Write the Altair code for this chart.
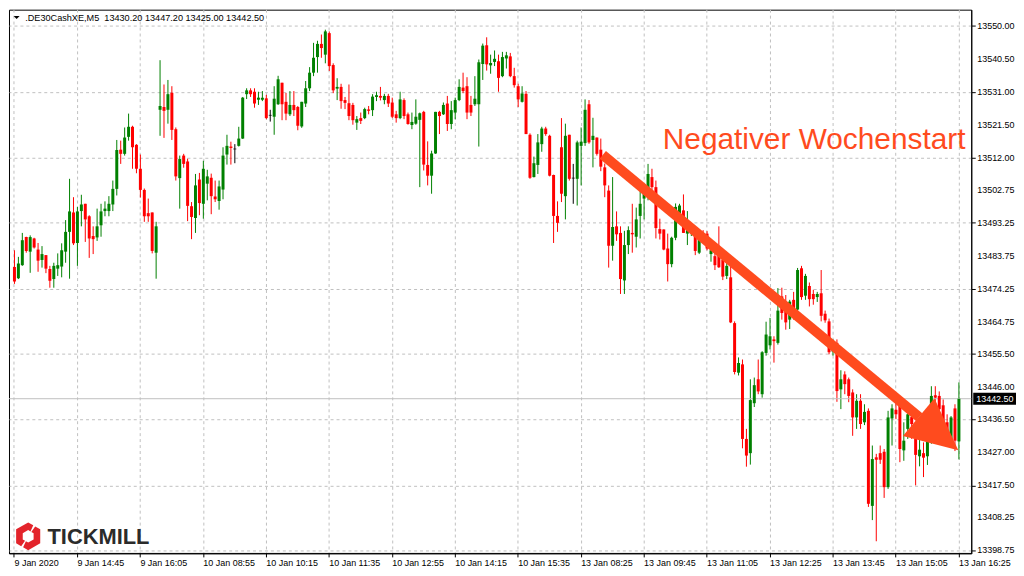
import altair as alt
import pandas as pd

# ---- OHLC values (DE30 Cash, M5), one entry per candle ----
opens = [
    13480.5, 13477.2, 13481.0, 13489.1, 13484.9, 13488.7, 13485.5, 13482.5, 13483.9, 13479.9,
    13477.0, 13480.0, 13480.6, 13484.9, 13490.6, 13496.2, 13487.4, 13496.6, 13498.7, 13495.1,
    13489.4, 13489.0, 13492.5, 13496.6, 13496.6, 13498.5, 13503.0, 13514.3, 13513.1, 13518.0,
    13520.9, 13515.7, 13508.8, 13502.7, 13496.0, 13496.2, 13484.6, 13525.8, 13526.6, 13525.8,
    13530.7, 13520.2, 13506.1, 13512.6, 13510.9, 13498.0, 13494.6, 13505.7, 13498.7, 13504.5,
    13506.2, 13500.8, 13499.5, 13502.8, 13512.9, 13515.2, 13514.5, 13515.4, 13517.5, 13530.3,
    13531.4, 13531.0, 13528.7, 13528.7, 13529.1, 13524.2, 13523.8, 13527.4, 13533.6, 13528.1,
    13524.5, 13527.2, 13526.6, 13521.0, 13527.6, 13532.0, 13536.5, 13541.0, 13544.8, 13541.7,
    13547.9, 13538.7, 13531.9, 13532.4, 13528.6, 13527.7, 13527.2, 13522.1, 13523.4, 13523.4,
    13525.9, 13525.7, 13529.5, 13529.8, 13528.6, 13529.8, 13527.9, 13524.5, 13523.4, 13528.6,
    13524.5, 13521.4, 13521.8, 13522.9, 13525.2, 13509.9, 13506.8, 13513.2, 13525.2, 13524.5,
    13527.6, 13521.7, 13525.0, 13528.6, 13532.2, 13532.6, 13527.2, 13527.4, 13527.4, 13539.0,
    13544.4, 13538.6, 13539.6, 13539.8, 13535.5, 13540.6, 13541.2, 13535.5, 13532.6, 13528.1,
    13530.4, 13518.6, 13506.4, 13509.9, 13515.9, 13520.4, 13518.3, 13507.0, 13495.2, 13515.0,
    13500.9, 13518.6, 13506.1, 13505.9, 13515.4, 13516.2, 13527.4, 13517.1, 13517.8, 13514.3,
    13509.2, 13502.5, 13486.6, 13492.2, 13490.3, 13476.6, 13486.8, 13490.3, 13489.2, 13495.2,
    13500.2, 13502.5, 13506.4, 13503.5, 13491.4, 13491.3, 13485.8, 13481.3, 13488.9, 13495.9,
    13496.8, 13490.1, 13490.2, 13490.1, 13484.6, 13490.1, 13490.1, 13484.2, 13483.6, 13484.4,
    13482.5, 13477.9, 13477.5, 13464.3, 13450.0, 13452.4, 13430.9, 13426.8, 13441.2, 13448.1,
    13443.8, 13455.7, 13457.9, 13459.6, 13458.6, 13472.0, 13469.6, 13465.3, 13471.0, 13468.2,
    13480.1, 13472.2, 13475.0, 13472.7, 13471.8, 13472.9, 13467.0, 13464.8, 13456.1, 13458.6,
    13445.2, 13449.5, 13448.1, 13444.3, 13437.1, 13441.9, 13435.7, 13439.0, 13411.6, 13425.6,
    13426.8, 13427.2, 13417.0, 13436.8, 13439.3, 13440.6, 13427.6, 13433.8, 13437.2, 13430.9,
    13425.9, 13426.8, 13425.9, 13430.9, 13443.5, 13443.3, 13440.6, 13435.7, 13430.4, 13439.7,
    13430.2,
]
highs = [
    13485.3, 13483.4, 13490.3, 13489.2, 13489.6, 13488.9, 13487.4, 13486.5, 13483.9, 13480.8,
    13481.7, 13484.4, 13487.3, 13494.0, 13505.9, 13500.6, 13497.8, 13501.3, 13498.7, 13495.4,
    13492.2, 13497.3, 13498.7, 13499.4, 13500.9, 13505.4, 13517.1, 13516.9, 13520.7, 13524.7,
    13521.2, 13515.9, 13512.9, 13503.1, 13500.2, 13496.2, 13493.5, 13540.1, 13533.1, 13534.4,
    13532.6, 13520.7, 13512.6, 13513.1, 13511.7, 13499.2, 13507.3, 13507.6, 13511.1, 13508.5,
    13507.4, 13505.4, 13505.4, 13515.0, 13518.6, 13516.6, 13515.9, 13520.9, 13529.5, 13532.0,
    13532.0, 13532.0, 13531.0, 13531.2, 13530.1, 13525.8, 13532.6, 13535.6, 13533.6, 13530.7,
    13531.2, 13531.2, 13526.9, 13528.1, 13534.1, 13538.1, 13545.1, 13545.7, 13547.5, 13548.9,
    13548.4, 13539.2, 13534.9, 13533.3, 13529.5, 13533.1, 13527.8, 13524.0, 13525.0, 13526.4,
    13526.9, 13530.3, 13531.0, 13532.4, 13530.4, 13530.4, 13529.3, 13525.5, 13531.0, 13529.1,
    13525.0, 13525.0, 13528.8, 13525.0, 13525.5, 13516.7, 13514.0, 13525.2, 13525.5, 13527.9,
    13529.8, 13528.3, 13529.3, 13534.6, 13536.5, 13535.2, 13529.8, 13535.5, 13540.3, 13544.9,
    13546.7, 13541.7, 13542.9, 13541.7, 13542.5, 13542.5, 13542.2, 13537.9, 13533.3, 13532.6,
    13531.2, 13519.0, 13512.3, 13518.8, 13520.9, 13520.9, 13518.6, 13507.1, 13499.4, 13523.4,
    13521.8, 13518.6, 13510.2, 13516.9, 13520.7, 13528.8, 13528.6, 13523.5, 13517.8, 13517.5,
    13510.3, 13504.0, 13506.4, 13496.5, 13492.2, 13490.9, 13492.2, 13498.7, 13497.6, 13502.5,
    13503.5, 13510.2, 13508.8, 13505.4, 13494.4, 13491.3, 13490.1, 13489.2, 13498.8, 13498.7,
    13501.4, 13496.6, 13492.5, 13491.1, 13491.1, 13491.1, 13490.8, 13487.4, 13485.3, 13492.2,
    13483.1, 13481.9, 13481.9, 13464.8, 13454.4, 13453.8, 13433.8, 13448.1, 13448.6, 13453.8,
    13456.2, 13464.7, 13465.8, 13460.5, 13474.4, 13474.5, 13472.4, 13471.0, 13473.3, 13480.2,
    13480.8, 13478.5, 13476.0, 13473.9, 13473.3, 13479.6, 13467.9, 13465.6, 13459.6, 13459.6,
    13450.7, 13450.4, 13448.6, 13445.2, 13443.8, 13443.8, 13440.9, 13439.7, 13429.0, 13426.6,
    13429.0, 13428.0, 13439.0, 13440.9, 13442.3, 13441.5, 13435.7, 13439.2, 13439.5, 13433.8,
    13431.8, 13429.9, 13433.8, 13446.1, 13446.1, 13444.6, 13442.3, 13438.0, 13437.5, 13440.9,
    13447.2,
]
lows = [
    13475.6, 13477.0, 13480.8, 13484.6, 13478.8, 13485.8, 13479.1, 13480.3, 13478.7, 13474.5,
    13474.5, 13477.9, 13477.5, 13481.7, 13477.1, 13486.8, 13480.8, 13492.2, 13487.7, 13483.1,
    13484.2, 13488.0, 13489.2, 13495.1, 13495.1, 13496.6, 13501.1, 13510.2, 13512.6, 13516.9,
    13508.8, 13507.5, 13500.5, 13493.5, 13493.5, 13484.4, 13477.1, 13518.3, 13517.7, 13521.8,
    13517.1, 13505.4, 13497.3, 13509.1, 13493.7, 13488.5, 13490.3, 13495.4, 13494.4, 13499.7,
    13495.7, 13499.2, 13497.0, 13500.0, 13510.0, 13510.0, 13510.4, 13515.2, 13517.4, 13528.9,
    13529.5, 13526.4, 13527.2, 13528.3, 13523.1, 13522.4, 13518.6, 13527.2, 13522.8, 13522.8,
    13524.0, 13524.0, 13519.9, 13520.6, 13526.6, 13531.2, 13535.5, 13536.5, 13540.8, 13539.2,
    13537.0, 13530.6, 13528.6, 13526.1, 13526.0, 13522.8, 13521.5, 13520.0, 13521.7, 13523.1,
    13524.5, 13524.0, 13528.3, 13528.5, 13527.4, 13526.6, 13523.4, 13522.1, 13523.1, 13523.1,
    13521.5, 13520.2, 13521.5, 13503.5, 13508.3, 13504.0, 13501.6, 13513.1, 13518.8, 13524.3,
    13519.7, 13520.2, 13523.1, 13528.3, 13530.6, 13523.1, 13524.0, 13526.9, 13515.2, 13534.4,
    13537.1, 13536.2, 13538.4, 13531.0, 13535.2, 13537.7, 13535.2, 13532.2, 13526.6, 13527.9,
    13518.8, 13505.9, 13506.3, 13507.3, 13513.7, 13518.3, 13506.6, 13487.4, 13490.6, 13499.2,
    13494.2, 13505.4, 13498.7, 13498.2, 13504.0, 13515.4, 13516.0, 13509.2, 13512.6, 13508.1,
    13500.6, 13480.3, 13482.3, 13488.0, 13472.7, 13472.7, 13484.2, 13484.6, 13486.1, 13488.7,
    13494.2, 13499.7, 13501.1, 13488.7, 13488.4, 13485.3, 13476.3, 13480.4, 13488.2, 13495.4,
    13490.3, 13486.8, 13489.4, 13483.9, 13484.2, 13487.6, 13485.3, 13482.0, 13479.6, 13480.2,
    13476.7, 13477.0, 13464.3, 13449.5, 13449.2, 13428.2, 13422.9, 13423.5, 13440.1, 13443.8,
    13442.8, 13454.9, 13456.7, 13452.9, 13458.1, 13465.3, 13462.4, 13462.6, 13465.3, 13467.6,
    13471.0, 13471.0, 13469.1, 13469.6, 13470.4, 13464.8, 13464.4, 13455.3, 13454.9, 13441.6,
    13439.5, 13443.8, 13441.5, 13431.8, 13433.8, 13433.8, 13434.9, 13411.3, 13407.5, 13401.4,
    13423.7, 13413.9, 13416.5, 13429.0, 13436.6, 13424.2, 13424.6, 13430.9, 13430.9, 13417.5,
    13423.0, 13419.9, 13423.4, 13429.5, 13440.4, 13438.0, 13433.2, 13430.9, 13429.5, 13427.4,
    13425.0,
]
closes = [
    13476.3, 13481.5, 13488.2, 13485.1, 13489.1, 13486.1, 13482.3, 13484.2, 13480.0, 13476.5,
    13480.8, 13481.0, 13485.3, 13490.6, 13496.5, 13487.3, 13496.5, 13498.5, 13494.2, 13488.7,
    13488.5, 13492.2, 13496.5, 13497.3, 13498.7, 13503.0, 13514.2, 13513.1, 13517.8, 13520.9,
    13515.0, 13508.8, 13502.7, 13495.1, 13495.1, 13485.1, 13492.2, 13526.9, 13525.5, 13530.3,
    13520.0, 13506.6, 13511.6, 13510.2, 13498.1, 13494.9, 13504.0, 13498.9, 13508.8, 13506.6,
    13500.9, 13500.0, 13503.7, 13512.6, 13515.4, 13514.8, 13514.5, 13517.5, 13529.3, 13531.4,
    13530.3, 13527.6, 13529.3, 13529.3, 13523.4, 13524.2, 13529.0, 13534.6, 13527.4, 13524.7,
    13527.2, 13525.7, 13521.2, 13528.1, 13532.0, 13536.5, 13540.8, 13544.8, 13543.6, 13548.4,
    13538.4, 13531.4, 13532.4, 13528.3, 13527.8, 13524.0, 13522.8, 13523.1, 13522.6, 13526.0,
    13525.5, 13529.6, 13530.0, 13529.3, 13529.8, 13527.6, 13523.8, 13523.4, 13528.8, 13524.0,
    13521.7, 13522.3, 13523.8, 13524.8, 13510.0, 13506.8, 13513.2, 13525.2, 13524.0, 13527.2,
    13521.7, 13525.7, 13528.6, 13532.4, 13531.2, 13525.0, 13525.0, 13529.0, 13539.5, 13544.3,
    13538.9, 13539.3, 13540.5, 13535.0, 13541.0, 13541.5, 13535.5, 13532.9, 13528.8, 13530.5,
    13518.8, 13506.2, 13510.4, 13516.4, 13520.4, 13518.8, 13506.8, 13495.2, 13493.2, 13501.6,
    13518.3, 13505.9, 13506.1, 13516.4, 13516.6, 13525.8, 13516.4, 13518.3, 13513.1, 13509.4,
    13504.0, 13486.6, 13492.0, 13489.9, 13477.0, 13486.8, 13491.1, 13489.9, 13494.2, 13498.7,
    13501.6, 13507.3, 13503.5, 13491.7, 13490.1, 13485.5, 13481.3, 13488.9, 13497.8, 13498.2,
    13490.3, 13492.5, 13491.4, 13485.1, 13490.6, 13488.2, 13485.8, 13485.3, 13481.0, 13480.4,
    13477.7, 13480.8, 13464.5, 13450.2, 13452.8, 13430.9, 13426.1, 13442.1, 13446.4, 13444.6,
    13455.9, 13461.0, 13460.5, 13459.1, 13467.9, 13467.2, 13464.5, 13470.5, 13466.7, 13479.6,
    13471.8, 13477.9, 13471.2, 13471.2, 13472.7, 13466.4, 13465.1, 13455.9, 13458.1, 13444.7,
    13448.1, 13446.7, 13443.3, 13437.1, 13441.9, 13435.2, 13438.7, 13412.2, 13425.1, 13424.9,
    13424.9, 13417.0, 13437.1, 13439.7, 13438.0, 13428.0, 13430.4, 13438.0, 13435.2, 13426.3,
    13427.8, 13425.5, 13430.4, 13443.3, 13442.8, 13439.5, 13434.2, 13432.0, 13437.1, 13430.4,
    13442.5,
]

x_labels = ["9 Jan 2020", "9 Jan 14:45", "9 Jan 16:05", "10 Jan 08:55", "10 Jan 10:15",
            "10 Jan 11:35", "10 Jan 12:55", "10 Jan 14:15", "10 Jan 15:35", "13 Jan 08:25",
            "13 Jan 09:45", "13 Jan 11:05", "13 Jan 12:25", "13 Jan 13:45", "13 Jan 15:05",
            "13 Jan 16:25"]
y_ticks = [13398.75, 13408.25, 13417.50, 13427.00, 13436.50, 13446.00, 13455.50, 13464.75,
           13474.25, 13483.75, 13493.25, 13502.75, 13512.00, 13521.50, 13531.00, 13540.50,
           13550.00]
last_price = 13442.50
header_text = ".DE30CashXE,M5\u00a0\u00a013430.20 13447.20 13425.00 13442.50"
note_text = "Negativer Wochenstart"
note_pos = [164.75, 13514.6]
arrow_idx = [149.5, 229.9]
arrow_price = [13512.8, 13437.2]
arrow_head = [234.8, 13432.4]
logo_text = "TICKMILL"

# ---- layout / style ----
W, H = 968, 547
X_DOMAIN = [-0.125, 241.875]
Y_DOMAIN = [13397.89, 13554.67]
GREEN, RED = "#008000", "#ff0000"
ORANGE = "#ff4b1e"
GRID = "#c0c0c0"
FONT = "Liberation Sans"

df = pd.DataFrame({"i": list(range(len(opens))), "open": opens, "high": highs,
                   "low": lows, "close": closes})
df["color"] = [GREEN if c > o else (RED if c < o else "black") for o, c in zip(opens, closes)]

xs = alt.Scale(domain=X_DOMAIN, nice=False, zero=False)
ys = alt.Scale(domain=Y_DOMAIN, nice=False, zero=False)

label_arr = "[" + ",".join("'%s'" % s for s in x_labels) + "]"
x_axis = alt.Axis(
    values=list(range(0, 241, 8)),
    labelExpr=f"datum.value % 16 == 0 ? {label_arr}[datum.value / 16] : ''",
    grid=True, gridDash=[3, 3], gridColor=GRID, gridWidth=1,
    tickColor={"condition": {"test": "datum.value % 16 == 0", "value": "black"},
               "value": "transparent"},
    tickSize=4, labelAlign="left", labelPadding=2, labelFont=FONT, labelFontSize=9,
    labelColor="black", domainColor="black", title=None, labelOverlap=False,
    labelFlush=False, labelBound=False, translate=0,
)
# y axis: ticks, grid and domain from the axis; its labels are drawn as a text layer
y_axis = alt.Axis(
    orient="right", values=y_ticks, grid=True, gridDash=[3, 3],
    gridColor=GRID, gridWidth=1, tickSize=4, tickColor="black", domainColor="black",
    labels=False, title=None,
)

one = pd.DataFrame({"k": [0]})

wicks = alt.Chart(df).mark_rule(strokeWidth=1).encode(
    x=alt.X("i:Q", scale=xs, axis=x_axis, title=None),
    y=alt.Y("low:Q", scale=ys, axis=y_axis, title=None),
    y2="high:Q",
    color=alt.Color("color:N", scale=None),
)
price_df = pd.DataFrame({"p": [last_price], "t": [f"{last_price:.2f}"]})
price_line = alt.Chart(price_df).mark_rule(color=GRID, strokeWidth=1).encode(
    y=alt.Y("p:Q", title=None)
)
bodies = alt.Chart(df).mark_bar(size=3).encode(
    x=alt.X("i:Q", title=None),
    y=alt.Y("open:Q", title=None),
    y2="close:Q",
    color=alt.Color("color:N", scale=None),
)
doji = alt.Chart(df[df["open"] == df["close"]]).mark_tick(
    orient="horizontal", size=3, thickness=1, color="black"
).encode(x=alt.X("i:Q", title=None), y=alt.Y("open:Q", title=None))

ylab_df = pd.DataFrame({"v": y_ticks, "t": [f"{v:.2f}" for v in y_ticks]})
ylabels = alt.Chart(ylab_df).mark_text(
    align="left", baseline="middle", font=FONT, fontSize=9, color="black"
).encode(x=alt.value(W + 6), y=alt.Y("v:Q", title=None), text="t:N")

arrow_df = pd.DataFrame({"ax": arrow_idx, "ay": arrow_price})
shaft = alt.Chart(arrow_df).mark_line(color=ORANGE, strokeWidth=10, strokeCap="butt").encode(
    x=alt.X("ax:Q", title=None), y=alt.Y("ay:Q", title=None)
)
head_df = pd.DataFrame({"hx": [arrow_head[0]], "hy": [arrow_head[1]]})
head = alt.Chart(head_df).mark_point(
    shape="M0,-1L-0.95,1L0.95,1Z", size=2704, filled=True, opacity=1, angle=130,
    color=ORANGE, strokeWidth=0,
).encode(x=alt.X("hx:Q", title=None), y=alt.Y("hy:Q", title=None))

note_df = pd.DataFrame({"nx": [note_pos[0]], "ny": [note_pos[1]], "t": [note_text]})
note = alt.Chart(note_df).mark_text(
    align="left", baseline="alphabetic", font=FONT, fontSize=30, color=ORANGE
).encode(x=alt.X("nx:Q", title=None), y=alt.Y("ny:Q", title=None), text="t:N")

header_df = pd.DataFrame({"t": [header_text]})
header = alt.Chart(header_df).mark_text(
    align="left", baseline="middle", font=FONT, fontSize=9.2, color="black"
).encode(x=alt.value(16.3), y=alt.value(8), text="t:N")
header_tri = alt.Chart(one).mark_point(
    shape="M-1,-0.5L1,-0.5L0,0.5Z", size=36, filled=True, opacity=1, color="black",
    strokeWidth=0,
).encode(x=alt.value(7.7), y=alt.value(8))

logo_path = ("M0.364,-0.79L0,-1L-0.866,-0.5L-0.866,0.5L-0.503,0.71L-0.226,0.32L-0.39,0.225"
             "L-0.39,-0.225L0,-0.45L0.164,-0.3555Z"
             "M0.502,-0.71L0.866,-0.5L0.866,0.5L0,1L-0.364,0.79L-0.164,0.3555L0,0.45"
             "L0.39,0.225L0.39,-0.225L0.226,-0.3195Z")
logo_icon = alt.Chart(one).mark_point(
    shape=logo_path, size=784, filled=True, opacity=1, color="#e3242b", strokeWidth=0
).encode(x=alt.value(19.3), y=alt.value(529.8))
logo_df = pd.DataFrame({"t": [logo_text]})
logo = alt.Chart(logo_df).mark_text(
    align="left", baseline="alphabetic", font=FONT, fontSize=22, fontWeight="bold",
    color="#2b2b2b"
).encode(x=alt.value(38.7), y=alt.value(537.7), text="t:N")

price_box = alt.Chart(price_df).mark_rect(color="black", yOffset=-6, y2Offset=6).encode(
    x=alt.value(W + 2), x2=alt.value(W + 45),
    y=alt.Y("p:Q", title=None), y2="p:Q",
)
price_lbl = alt.Chart(price_df).mark_text(
    align="left", baseline="middle", font=FONT, fontSize=9, color="white"
).encode(x=alt.value(W + 5), y=alt.Y("p:Q", title=None), text="t:N")

chart = alt.layer(
    wicks, price_line, bodies, doji, shaft, head, note, header, header_tri,
    logo_icon, logo, ylabels, price_box, price_lbl,
).properties(
    width=W, height=H, padding=0, background="white"
).configure_view(
    stroke="black", strokeWidth=1
)

chart.save("out.html", embed_options={"renderer": "svg", "actions": False})
